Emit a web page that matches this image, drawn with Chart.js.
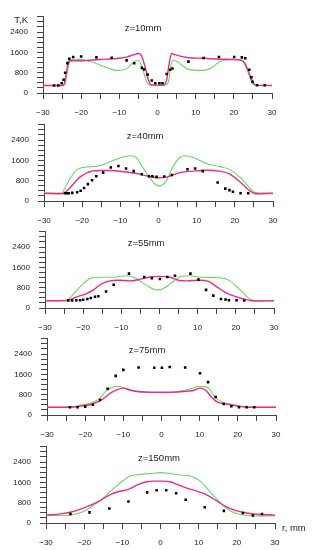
<!DOCTYPE html>
<html>
<head>
<meta charset="utf-8">
<script src="https://cdn.jsdelivr.net/npm/chart.js@4/dist/chart.umd.min.js"></script>
<style>
  html, body { margin: 0; padding: 0; background: #fff; }
  #page { position: relative; width: 317px; height: 550px; overflow: hidden; background: #fff; }
  #page canvas { position: absolute; left: 0; }
</style>
</head>
<body>
<div id="page"></div>
<script>
// panel titles
const titles = ['z=10mm', 'z=40mm', 'z=55mm', 'z=75mm', 'z=150mm'];

// axis ticks
const xTicks = [-30, -20, -10, 0, 10, 20, 30];
const yTicks = [0, 800, 1600, 2400];

// z = 10 mm  [r (mm), T (K)]
const z10Green = [[-30,297],[-25,297],[-24.3,330],[-23.8,700],[-23.2,1150],[-22.5,1320],[-21,1335],[-19,1290],[-16.8,1200],[-13.3,1000],[-10.8,890],[-8.1,960],[-6.5,1180],[-5.3,1290],[-4.5,1200],[-3.6,800],[-2.9,460],[-2.2,320],[-1.5,300],[0,297],[1.5,300],[2.2,320],[2.9,460],[3.4,1000],[4.1,1290],[5,1250],[8,940],[11,890],[13.6,940],[16.4,1236],[19.9,1320],[21.6,1320],[22.4,1236],[23.7,820],[24.6,450],[25.3,320],[26,297],[30,297]];
const z10Magenta = [[-30,297],[-24.7,297],[-24.25,464],[-23.8,820],[-23.4,1200],[-22.5,1272],[-20.3,1272],[-15.1,1320],[-10,1370],[-8.1,1415],[-6.35,1498],[-5,1558],[-4.2,1474],[-3.3,1058],[-2.4,523],[-1.6,320],[0,310],[1.6,320],[2.4,523],[3,1100],[3.7,1558],[4.5,1510],[8.1,1390],[12,1370],[16.1,1331],[21.6,1296],[22.9,1177],[24.05,760],[25.1,403],[25.9,310],[30,297]];
const z10Points = [[-27.1,297],[-26,297],[-25.1,380],[-24.6,523],[-24.2,797],[-23.6,1177],[-23.1,1343],[-22.1,1415],[-20,1439],[-16,1403],[-12,1391],[-8.1,1284],[-6.1,1170],[-4.1,990],[-3.5,930],[-2.6,724],[-1.5,490],[-0.6,381],[0.5,381],[1.3,381],[2.4,749],[3.3,916],[3.9,963],[8.1,1236],[12.1,1379],[16.1,1414],[20.1,1414],[22.1,1403],[23,1367],[24.05,916],[24.6,618],[24.9,440],[26.1,309],[28.1,309]];

// z = 40 mm
const z40Green = [[-30,309],[-25.4,309],[-24.9,404],[-23.2,879],[-21.4,1235],[-19.7,1319],[-15.3,1390],[-11.9,1592],[-9.25,1734],[-7.1,1782],[-5.8,1711],[-4,1295],[-1.8,820],[0,594],[1.9,760],[3.8,1354],[5.6,1711],[6.9,1782],[9.1,1711],[12.6,1473],[16,1354],[18.7,1235],[21.3,938],[23.5,582],[25.2,344],[27.4,309],[30,309]];
const z40Magenta = [[-30,300],[-25.4,285],[-23.6,463],[-20.6,939],[-17.5,1176],[-15.3,1200],[-12.7,1200],[-8.4,1140],[-4.9,1057],[-2.3,962],[0,915],[2.1,939],[5.6,1117],[9.1,1176],[12.6,1212],[16,1176],[18.7,1057],[21.3,760],[23.9,404],[25.6,285],[30,300]];
const z40Points = [[-24.5,309],[-24,309],[-23.5,309],[-22.6,320],[-21.3,345],[-20.4,404],[-19.5,511],[-18.5,665],[-17.4,820],[-16.3,974],[-14.5,1117],[-12.5,1319],[-10.5,1378],[-8.5,1283],[-6.5,1176],[-4.4,1057],[-2.5,974],[-1.6,974],[-0.5,950],[1.5,962],[3.5,1022],[7.6,1247],[9.6,1283],[11.6,1176],[15.5,725],[17.5,487],[18.6,428],[19.5,368],[21.5,309],[23.5,309]];

// z = 55 mm
const z55Green = [[-30,285],[-24.5,290],[-23,475],[-20.8,832],[-18.2,1164],[-16,1212],[-12.1,1212],[-8.6,1271],[-6.4,1188],[-3.4,891],[-0.7,713],[0,713],[2.75,950],[5.8,1247],[8,1271],[10.6,1212],[15.9,1188],[18.5,1069],[21.1,713],[23.7,356],[25.5,285],[30,285]];
const z55Magenta = [[-30,285],[-24.3,297],[-21.7,440],[-19.1,570],[-17.3,713],[-15.6,915],[-13,1069],[-10.8,1093],[-7.7,1069],[-5.1,1129],[-2.9,1212],[0,1247],[2.75,1212],[4.9,1093],[7.1,1069],[10.6,1093],[12.8,1045],[15,832],[17.2,618],[19.4,475],[22,356],[24.6,273],[30,285]];
const z55Points = [[-23.9,297],[-22.9,297],[-21.8,309],[-20.8,309],[-20,321],[-18.9,356],[-18,392],[-16.9,440],[-16,463],[-14,653],[-12,915],[-8,1354],[-4,1224],[-2,1176],[0.1,1140],[2.05,1224],[4.06,1271],[8.1,1354],[10.2,1117],[12.2,713],[14.1,487],[16.1,356],[17.3,333],[18.2,309],[20.2,309],[22.2,297]];

// z = 75 mm
const z75Green = [[-30,306],[-24,306],[-21.2,388],[-18.6,470],[-16.4,623],[-14.7,917],[-12.9,1094],[-11.3,1129],[-9.4,1035],[-7.2,941],[-3.7,894],[0,882],[4.2,917],[7.7,1035],[9.9,1129],[11.4,1117],[12.5,1035],[14.2,682],[16,506],[18.2,423],[20.8,353],[24.3,306],[30,306]];
const z75Magenta = [[-30,306],[-24,306],[-21.2,353],[-18.6,412],[-16,565],[-13.4,859],[-11.6,1000],[-10,1058],[-8.1,976],[-5.5,917],[0,894],[5,917],[8.6,976],[10.1,1058],[11.6,976],[12.9,741],[14.7,506],[17.3,423],[19.9,353],[22.6,306],[30,306]];
const z75Points = [[-24,306],[-22,306],[-20,329],[-18,400],[-16.1,588],[-14.1,1035],[-12,1541],[-10,1776],[-6,1870],[-1.9,1858],[0.1,1858],[2.15,1893],[6.2,1870],[10.1,1646],[12.2,1294],[14.2,706],[16.3,435],[18.3,341],[20.3,306],[22.3,306],[24.3,306]];

// z = 150 mm
const z150Green = [[-30,298],[-26.3,298],[-22.8,334],[-20.2,454],[-17.6,693],[-15,991],[-12.35,1349],[-9.7,1684],[-8,1851],[-5.4,1910],[-2.75,1946],[0,1982],[2.5,1946],[5.1,1887],[7.7,1851],[10.4,1648],[13,1230],[15.2,872],[17.3,573],[20,370],[22.6,298],[25.2,278],[27.8,282],[30,292]];
const z150Magenta = [[-30,310],[-26.3,358],[-22.8,454],[-19.4,633],[-15.9,872],[-13.3,1110],[-11.1,1230],[-8.4,1325],[-6.2,1493],[-3.6,1624],[-1.9,1648],[0,1648],[2.5,1624],[4.2,1528],[6.9,1373],[9.5,1254],[12.1,1110],[14.7,872],[17.3,633],[20,478],[22.6,394],[25.2,346],[27.8,322],[30,310]];
const z150Points = [[-23.6,358],[-18.6,418],[-13.4,573],[-8.4,848],[-3.5,1206],[-1,1290],[1.5,1290],[4.1,1170],[6.6,919],[11.6,621],[16.6,478],[21.6,394],[24.2,298],[26.6,358]];

const greens = [z10Green, z40Green, z55Green, z75Green, z150Green];
const magentas = [z10Magenta, z40Magenta, z55Magenta, z75Magenta, z150Magenta];
const points = [z10Points, z40Points, z55Points, z75Points, z150Points];

// layout of the five panels (pixel positions of the plot boxes)
const plotTop = [9, 117, 224, 331, 439];
const plotLeft = [43, 44, 45, 47, 46];
const titleAt = [-3.8, -3.5, -3.5, -3.8, -0.4];
const plotW = 229, plotH = 84, padTop = 6, xAxisH = 30;

const toXY = arr => arr.map(p => ({ x: p[0], y: p[1] }));
const fmt = v => v < 0 ? '\u2212' + (-v) : String(v);

const page = document.getElementById('page');

for (let i = 0; i < titles.length; i++) {
    const canvas = document.createElement('canvas');
    canvas.width = 317;
    canvas.height = padTop + plotH + xAxisH;
    canvas.style.top = (plotTop[i] - padTop) + 'px';
    page.appendChild(canvas);

    const isLast = i === titles.length - 1;

    // draws the panel title, the T,K label and the r, mm label
    const labels = {
        id: 'labels' + i,
        afterDraw(chart) {
            const ctx = chart.ctx;
            const xs = chart.scales.x, ys = chart.scales.y;
            ctx.save();
            ctx.fillStyle = '#222';
            ctx.font = '9.5px "Liberation Sans", Arial, sans-serif';
            ctx.textAlign = 'center';
            ctx.textBaseline = 'middle';
            ctx.fillText(titles[i], xs.getPixelForValue(titleAt[i]), ys.getPixelForValue(2560));
            if (i === 0) {
                ctx.textAlign = 'right';
                ctx.fillText('T,K', 28, ys.getPixelForValue(2850));
            }
            if (isLast) {
                ctx.textAlign = 'left';
                ctx.fillText('r, mm', xs.right + 7, ys.getPixelForValue(0) + 5);
            }
            ctx.restore();
        }
    };

    new Chart(canvas.getContext('2d'), {
        type: 'scatter',
        data: {
            datasets: [
                {
                    data: toXY(points[i]),
                    pointStyle: 'rect',
                    pointRadius: 1.8,
                    backgroundColor: '#000',
                    borderWidth: 0,
                    showLine: false
                },
                {
                    data: toXY(magentas[i]),
                    showLine: true,
                    borderColor: '#f22888',
                    borderWidth: 1.4,
                    pointRadius: 0,
                    cubicInterpolationMode: 'monotone'
                },
                {
                    data: toXY(greens[i]),
                    showLine: true,
                    borderColor: '#66d85c',
                    borderWidth: 1.1,
                    pointRadius: 0,
                    cubicInterpolationMode: 'monotone'
                }
            ]
        },
        options: {
            responsive: false,
            animation: false,
            layout: { padding: { top: padTop, left: 0, bottom: 0, right: 317 - plotLeft[i] - plotW } },
            plugins: { legend: { display: false }, tooltip: { enabled: false } },
            scales: {
                x: {
                    type: 'linear',
                    min: -30, max: 30,
                    afterFit: s => { s.height = xAxisH; },
                    border: { display: true, color: '#444', width: 1 },
                    grid: { drawOnChartArea: false, drawTicks: true, tickLength: 6, color: '#444' },
                    ticks: {
                        stepSize: 5, autoSkip: false, maxRotation: 0, padding: 9,
                        color: '#222',
                        font: { family: '"Liberation Sans", Arial, sans-serif', size: 8 },
                        callback: v => xTicks.includes(v) ? fmt(v) : ''
                    }
                },
                y: {
                    type: 'linear',
                    min: 0, max: 3000,
                    afterFit: s => { s.width = plotLeft[i]; },
                    border: { display: true, color: '#444', width: 1 },
                    grid: { drawOnChartArea: false, drawTicks: true, tickLength: 6, color: '#444' },
                    ticks: {
                        stepSize: 200, autoSkip: false, padding: 9,
                        color: '#222',
                        font: { family: '"Liberation Sans", Arial, sans-serif', size: 8 },
                        callback: v => yTicks.includes(v) ? String(v) : ''
                    }
                }
            }
        },
        plugins: [labels]
    });
}
</script>
</body>
</html>
